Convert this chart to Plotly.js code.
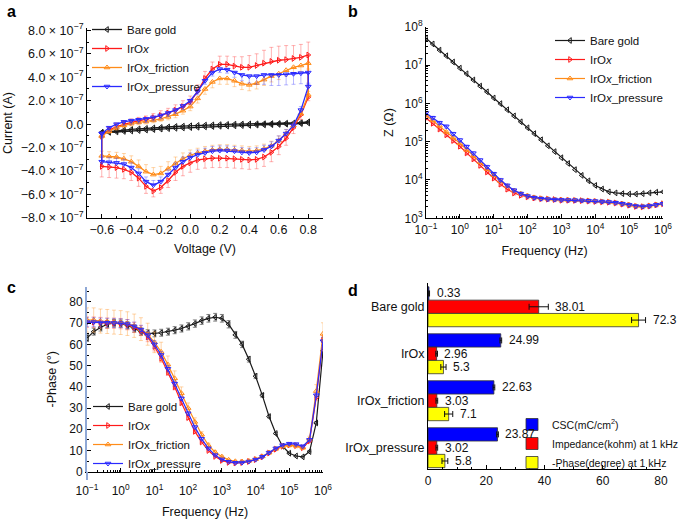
<!DOCTYPE html>
<html><head><meta charset="utf-8">
<script src="https://cdn.plot.ly/plotly-3.0.1.min.js"></script>
<style>html,body{margin:0;padding:0;background:#fff}#chart{width:685px;height:519px}</style>
</head><body><div id="chart"></div>
<script>
// ---------- Panel a: cyclic voltammetry (current in units of 1e-7 A) ----------
const voltage = [-0.6,-0.55,-0.5,-0.45,-0.4,-0.35,-0.3,-0.25,-0.2,-0.15,-0.1,-0.05,0,0.05,0.1,0.15,0.2,0.25,0.3,0.35,0.4,0.45,0.5,0.55,0.6,0.65,0.7,0.75,0.8];
const bareUp = [-0.7,-0.62,-0.55,-0.5,-0.45,-0.4,-0.36,-0.32,-0.28,-0.24,-0.2,-0.17,-0.14,-0.11,-0.08,-0.06,-0.04,-0.02,0.0,0.01,0.02,0.03,0.04,0.05,0.06,0.08,0.1,0.13,0.2];
const bareLow = [0.1,0.05,0.02,0.0,-0.02,-0.04,-0.06,-0.08,-0.1,-0.12,-0.14,-0.16,-0.18,-0.2,-0.23,-0.26,-0.29,-0.32,-0.35,-0.38,-0.42,-0.46,-0.5,-0.54,-0.58,-0.62,-0.66,-0.7,-0.75];
const iroxUp = [-1.0,-0.5,-0.2,0.0,0.15,0.28,0.4,0.55,0.75,0.95,1.2,1.5,1.9,2.8,3.9,4.7,5.1,5.1,4.95,4.85,4.85,5.0,5.2,5.35,5.45,5.5,5.6,5.7,5.9];
const iroxLow = [2.3,0.8,-0.3,-1.2,-1.9,-2.4,-2.8,-3.0,-3.05,-3.0,-2.95,-2.9,-2.9,-2.9,-2.95,-3.05,-3.3,-3.6,-4.1,-4.8,-5.4,-5.7,-5.3,-4.6,-4.1,-3.85,-3.7,-3.65,-3.6];
const fricUp = [-1.0,-0.6,-0.3,-0.1,0.05,0.15,0.22,0.32,0.45,0.62,0.85,1.15,1.5,2.2,3.0,3.6,3.9,3.9,3.7,3.45,3.35,3.5,3.8,4.1,4.3,4.6,4.85,5.0,5.2];
const fricLow = [2.5,0.9,-0.1,-0.8,-1.4,-1.85,-2.1,-2.25,-2.3,-2.25,-2.2,-2.15,-2.15,-2.2,-2.3,-2.45,-2.65,-2.95,-3.35,-3.8,-4.2,-4.3,-4.05,-3.6,-3.2,-2.95,-2.8,-2.75,-2.7];
const presUp = [-0.8,-0.3,0.0,0.2,0.3,0.38,0.45,0.58,0.75,0.95,1.2,1.55,2.0,2.8,3.7,4.4,4.7,4.65,4.4,4.2,4.1,4.1,4.2,4.2,4.2,4.25,4.3,4.35,4.4];
const presLow = [3.2,1.2,-0.1,-0.8,-1.4,-1.9,-2.2,-2.4,-2.45,-2.4,-2.3,-2.25,-2.25,-2.3,-2.45,-2.6,-2.85,-3.2,-3.7,-4.3,-4.9,-5.2,-4.9,-4.2,-3.7,-3.4,-3.3,-3.25,-3.2];
// error bars (units 1e-7 A)
const iroxUpErr = [0.3,0.3,0.3,0.3,0.3,0.3,0.3,0.35,0.4,0.4,0.45,0.5,0.5,0.55,0.6,0.6,0.7,0.7,0.8,0.9,1.0,1.0,1.1,1.2,1.2,1.2,1.1,1.1,1.1];
const iroxLowErr = [0.3,0.4,0.5,0.6,0.7,0.8,0.8,0.8,0.8,0.8,0.8,0.8,0.8,0.8,0.8,0.8,0.8,0.8,0.7,0.6,0.5,0.5,0.6,0.7,0.7,0.8,0.9,0.9,0.9];
const fricUpErr = [0.2,0.2,0.2,0.2,0.2,0.2,0.2,0.2,0.2,0.25,0.3,0.3,0.35,0.4,0.45,0.5,0.5,0.5,0.5,0.5,0.5,0.5,0.5,0.5,0.5,0.5,0.5,0.5,0.5];
const fricLowErr = [0.3,0.3,0.3,0.35,0.4,0.4,0.4,0.4,0.4,0.4,0.4,0.4,0.4,0.4,0.4,0.4,0.45,0.5,0.55,0.6,0.6,0.6,0.6,0.55,0.5,0.45,0.4,0.4,0.4];
const presUpErr = [0.3,0.3,0.3,0.3,0.3,0.3,0.3,0.3,0.3,0.3,0.3,0.3,0.3,0.3,0.3,0.3,0.3,0.3,0.4,0.5,0.6,0.7,0.8,0.9,0.9,0.9,0.9,0.9,1.0];
const presLowErr = [0.3,0.3,0.3,0.35,0.4,0.4,0.4,0.4,0.4,0.4,0.4,0.4,0.4,0.4,0.4,0.4,0.4,0.4,0.4,0.4,0.4,0.4,0.4,0.4,0.4,0.4,0.4,0.4,0.4];
const currentTickVals = [-8,-6,-4,-2,0,2,4,6,8];
const currentTickText = ['\u22128.0 \u00d7 10<sup>\u22127</sup>','\u22126.0 \u00d7 10<sup>\u22127</sup>','\u22124.0 \u00d7 10<sup>\u22127</sup>','\u22122.0 \u00d7 10<sup>\u22127</sup>','0.0','2.0 \u00d7 10<sup>\u22127</sup>','4.0 \u00d7 10<sup>\u22127</sup>','6.0 \u00d7 10<sup>\u22127</sup>','8.0 \u00d7 10<sup>\u22127</sup>'];

// ---------- Panels b, c: impedance spectroscopy ----------
const freq = [0.1,0.158,0.251,0.398,0.631,1,1.58,2.51,3.98,6.31,10,15.8,25.1,39.8,63.1,100,158,251,398,631,1000,1585,2512,3981,6310,1e4,1.585e4,2.512e4,3.981e4,6.31e4,1e5,1.585e5,2.512e5,3.981e5,6.31e5,1e6];
const zBare = [5.0e7,3.55e7,2.45e7,1.74e7,1.2e7,8.3e6,5.9e6,4.07e6,2.82e6,2.0e6,1.38e6,9.8e5,6.8e5,4.7e5,3.3e5,2.3e5,1.62e5,1.12e5,7.8e4,5.5e4,3.8e4,2.7e4,1.86e4,1.32e4,9.5e3,7.2e3,5.8e3,4.9e3,4.6e3,4.4e3,4.3e3,4.3e3,4.4e3,4.6e3,4.8e3,4.9e3];
const zIrox = [4.17e5,3.02e5,2.14e5,1.51e5,1.07e5,7.6e4,5.1e4,3.55e4,2.4e4,1.62e4,1.12e4,7.8e3,5.75e3,4.57e3,3.98e3,3.63e3,3.39e3,3.24e3,3.16e3,3.09e3,2.96e3,2.95e3,2.93e3,2.89e3,2.82e3,2.75e3,2.69e3,2.63e3,2.51e3,2.34e3,2.19e3,2.04e3,2.0e3,2.09e3,2.24e3,2.4e3];
const zFric = [5.0e5,3.6e5,2.6e5,1.8e5,1.28e5,9.1e4,6.1e4,4.3e4,2.9e4,1.95e4,1.35e4,9.4e3,6.9e3,5.3e3,4.4e3,3.9e3,3.5e3,3.3e3,3.2e3,3.1e3,3.03e3,3.0e3,2.97e3,2.93e3,2.87e3,2.8e3,2.73e3,2.66e3,2.55e3,2.4e3,2.25e3,2.1e3,2.05e3,2.12e3,2.27e3,2.42e3];
const zPres = [5.6e5,4.2e5,3.1e5,2.5e5,1.6e5,1.1e5,7.4e4,5.0e4,3.3e4,2.2e4,1.45e4,1.0e4,7.2e3,5.4e3,4.4e3,3.8e3,3.45e3,3.25e3,3.15e3,3.08e3,3.02e3,2.99e3,2.96e3,2.92e3,2.86e3,2.8e3,2.73e3,2.66e3,2.55e3,2.4e3,2.24e3,2.08e3,2.03e3,2.1e3,2.25e3,2.4e3];
const phBare = [63,66,68,69.5,70,69.8,69,67.5,66,65.3,65.2,65.5,66,66.7,67.5,68.5,69.8,71.2,72.3,72.8,72.3,69.5,64.5,60,53,45,36,26,18,12,8.7,7.4,7.0,9.5,23,57];
const phIrox = [70.5,70.5,70.3,70,70,69.8,69.3,68,66.5,63.5,59,53.5,47,40,32.5,25.5,19,14,10,7.2,5.3,4.4,4.1,4.3,4.8,5.7,7,8.8,10.6,12,12.6,12.3,11.3,14.5,35,62];
const phFric = [71.5,71.5,71,70.8,70.5,70.3,69.8,68.8,67.2,64.8,61,56.5,50.5,44,37,30,23.5,17.5,12.5,9.2,7.1,5.6,4.9,4.8,5.1,5.9,7.2,9,10.8,12,12.5,12.2,11.3,15.5,38,65];
const phPres = [70.5,70.5,70.3,70.2,70.1,70,69.6,68.5,67,64.3,60,55,48.5,41.5,34.5,27.5,21,15.5,11,7.8,5.8,4.7,4.2,4.3,4.8,5.7,7,9,11,12.5,13.2,13,12,15,36,61.5];
const decadeVals = [0.1,1,10,100,1000,1e4,1e5,1e6];
const decadeText = ['10<sup>\u22121</sup>','10<sup>0</sup>','10<sup>1</sup>','10<sup>2</sup>','10<sup>3</sup>','10<sup>4</sup>','10<sup>5</sup>','10<sup>6</sup>'];
const zTickVals = [1e3,1e4,1e5,1e6,1e7,1e8];
const zTickText = ['10<sup>3</sup>','10<sup>4</sup>','10<sup>5</sup>','10<sup>6</sup>','10<sup>7</sup>','10<sup>8</sup>'];

// ---------- Panel d: summary bars ----------
const samples = ['Bare gold','IrOx','IrOx_friction','IrOx_pressure'];
const csc = [0.33,24.99,22.63,23.87];
const cscErr = [0.2,0.3,0.3,0.3];
const imp1k = [38.01,2.96,3.03,3.02];
const imp1kErr = [3.3,0.3,0.3,0.3];
const phase1k = [72.3,5.3,7.1,5.8];
const phase1kErr = [2.4,0.9,1.4,1.0];
const seriesNames = ['CSC(mC/cm<sup>2</sup>)','Impedance(kohm) at 1 kHz','-Phase(degree) at 1 kHz'];

// ---------- styles ----------
const FONT = 'Liberation Sans, Arial, Helvetica, sans-serif';
const C = {bare:'#1a1a1a', irox:'#ff1a1a', fric:'#ff8c1a', pres:'#2a2aff'};
const CE = {bare:'rgba(40,40,40,0.55)', irox:'rgba(255,40,40,0.35)', fric:'rgba(255,150,40,0.4)', pres:'rgba(50,50,255,0.35)'};
const W = 685, H = 519;
const px = (l, r) => [l / W, r / W];
const py = (top, bot) => [1 - bot / H, 1 - top / H];

const zeros = voltage.map(() => 0);
const revV = voltage.slice().reverse();
function loop(up, low) { return up.concat(low, [up[0]]); }
const loopV = loop(voltage, revV);

function cvTrace(name, up, low, upErr, lowErr, outward, color, ecolor, symbol) {
  const t = {x: loopV, y: loop(up, low), name: name, xaxis:'x', yaxis:'y', legend:'legend',
    mode:'lines+markers', line:{color:color, width:1.3}, marker:{symbol:symbol, size:5, color:color, line:{width:1}}};
  if (upErr) {
    const plus = outward ? loop(upErr, zeros) : loop(zeros, lowErr);
    const minus = outward ? loop(zeros, lowErr) : loop(upErr, zeros);
    t.error_y = {type:'data', symmetric:false, array:plus, arrayminus:minus, color:ecolor, thickness:1, width:2};
  }
  return t;
}

const traces = [];
traces.push(cvTrace('Bare gold', bareUp, bareLow, null, null, true, C.bare, CE.bare, 'triangle-left-open'));
traces.push(cvTrace('IrO<i>x</i>', iroxUp, iroxLow, iroxUpErr, iroxLowErr, true, C.irox, CE.irox, 'triangle-right-open'));
traces.push(cvTrace('IrOx_friction', fricUp, fricLow, fricUpErr, fricLowErr, false, C.fric, CE.fric, 'triangle-up-open'));
traces.push(cvTrace('IrOx_pressure', presUp, presLow, presUpErr, presLowErr, false, C.pres, CE.pres, 'triangle-down-open'));

function eisTrace(name, y, ax, lg, color, ecolor, symbol, pct) {
  const t = {x: freq, y: y, name: name, xaxis:'x'+ax, yaxis:'y'+ax, legend:lg,
    mode:'lines+markers', line:{color:color, width:1.2}, marker:{symbol:symbol, size:5, color:color, line:{width:1}}};
  if (pct) t.error_y = {type:'percent', value:pct, color:ecolor, thickness:1, width:2};
  return t;
}
traces.push(eisTrace('Bare gold', zBare, 2, 'legend2', C.bare, CE.bare, 'triangle-left-open', 0));
traces.push(eisTrace('IrO<i>x</i>', zIrox, 2, 'legend2', C.irox, CE.irox, 'triangle-right-open', 12));
traces.push(eisTrace('IrO<i>x</i>_friction', zFric, 2, 'legend2', C.fric, CE.fric, 'triangle-up-open', 8));
traces.push(eisTrace('IrO<i>x</i>_pressure', zPres, 2, 'legend2', C.pres, CE.pres, 'triangle-down-open', 10));

traces.push(eisTrace('Bare gold', phBare, 3, 'legend3', C.bare, CE.bare, 'triangle-left-open', 2.5));
traces.push(eisTrace('IrO<i>x</i>', phIrox, 3, 'legend3', C.irox, CE.irox, 'triangle-right-open', 3.5));
traces.push(eisTrace('IrOx_friction', phFric, 3, 'legend3', C.fric, CE.fric, 'triangle-up-open', 8));
traces.push(eisTrace('IrO<i>x</i>_pressure', phPres, 3, 'legend3', C.pres, CE.pres, 'triangle-down-open', 3));

const barVals = [csc, imp1k, phase1k];
const barErrs = [cscErr, imp1kErr, phase1kErr];
const barColors = ['#0000ff','#ff0000','#ffff00'];
for (let k = 0; k < 3; k++) {
  traces.push({type:'bar', orientation:'h', x: barVals[k], y: samples, name: seriesNames[k],
    xaxis:'x4', yaxis:'y4', legend:'legend4',
    marker:{color:barColors[k], line:{color:'#333', width:0.8}},
    error_x:{type:'data', array:barErrs[k], color:'#111', thickness:1, width:3}});
}

// ---------- layout ----------
const dDomY = py(283.3, 469.3), dRange = [3.46, -0.5], bargap = 0.15;
const pxPerCat = ((dDomY[1] - dDomY[0]) * H) / (dRange[0] - dRange[1]);
const barPx = (1 - bargap) / 3 * pxPerCat;
const annotations = [];
for (let k = 0; k < 3; k++) {
  for (let i = 0; i < samples.length; i++) {
    annotations.push({xref:'x4', yref:'y4', x: barVals[k][i] + barErrs[k][i], y: samples[i],
      text: String(barVals[k][i]), showarrow:false, xanchor:'left', yanchor:'middle',
      xshift:5, yshift:(1 - k) * barPx, font:{family:FONT, size:12, color:'#111'}});
  }
}
const letters = [['a',5,12],['b',346,12],['c',5,287],['d',346,290]];
letters.forEach(l => annotations.push({xref:'paper', yref:'paper', x:l[1]/W, y:1-l[2]/H, text:'<b>'+l[0]+'</b>',
  showarrow:false, xanchor:'left', yanchor:'middle', font:{family:FONT, size:16, color:'#000'}}));

const axBase = {showgrid:false, zeroline:false, showline:true, linecolor:'#000', linewidth:1, mirror:false, automargin:false,
  ticks:'inside', ticklen:4, tickcolor:'#000', tickfont:{family:FONT, size:12, color:'#111'}};
const titleFont = {family:FONT, size:12.5, color:'#111'};
const legBase = {bgcolor:'rgba(0,0,0,0)', borderwidth:0, font:{family:FONT, size:11.5, color:'#111'}, xanchor:'left', yanchor:'top', tracegroupgap:0};

const layout = {
  width:W, height:H, margin:{l:0, r:0, t:0, b:0, autoexpand:false}, paper_bgcolor:'#fff', plot_bgcolor:'rgba(0,0,0,0)',
  font:{family:FONT, size:12, color:'#111'}, showlegend:true, barmode:'group', bargap:bargap, bargroupgap:0,
  xaxis: Object.assign({}, axBase, {domain:px(87,323), anchor:'y', range:[-0.7,0.9], dtick:0.2, tick0:0, tickformat:'.1f',
    tickfont:{family:FONT, size:12.5, color:'#111'}, minor:{dtick:0.1, tick0:0, ticks:'inside', ticklen:2, tickcolor:'#000'},
    title:{text:'Voltage (V)', font:titleFont, standoff:8}}),
  yaxis: Object.assign({}, axBase, {domain:py(28,218), anchor:'x', range:[-8,8.2], tickmode:'array', tickvals:currentTickVals, ticktext:currentTickText,
    tickfont:{family:FONT, size:12.5, color:'#111'}, minor:{dtick:1, tick0:0, ticks:'inside', ticklen:2, tickcolor:'#000'},
    title:{text:'Current (A)', font:titleFont, standoff:5}}),
  xaxis2: Object.assign({}, axBase, {domain:px(426,663), anchor:'y2', type:'log', range:[-1,6], tickmode:'array', tickvals:decadeVals, ticktext:decadeText,
    minor:{dtick:'D1', ticks:'inside', ticklen:2, tickcolor:'#000'}, title:{text:'Frequency (Hz)', font:titleFont, standoff:10}}),
  yaxis2: Object.assign({}, axBase, {domain:py(26.7,218.3), anchor:'x2', type:'log', range:[3,8], tickmode:'array', tickvals:zTickVals, ticktext:zTickText,
    minor:{dtick:'D1', ticks:'inside', ticklen:2, tickcolor:'#000'}, title:{text:'Z (\u03a9)', font:titleFont, standoff:8}}),
  xaxis3: Object.assign({}, axBase, {domain:px(87,323), anchor:'y3', type:'log', range:[-1,6], tickmode:'array', tickvals:decadeVals, ticktext:decadeText,
    ticklabelstandoff:8, minor:{dtick:'D1', ticks:'inside', ticklen:2, tickcolor:'#000'}, title:{text:'Frequency (Hz)', font:titleFont, standoff:10}}),
  yaxis3: Object.assign({}, axBase, {domain:py(286.7,471.7), anchor:'x3', range:[0,87.2], dtick:10, linecolor:'#8fa8d6', linewidth:2,
    minor:{dtick:5, ticks:'inside', ticklen:2, tickcolor:'#000'}, title:{text:'-Phase (\u00b0)', font:titleFont, standoff:10}}),
  xaxis4: Object.assign({}, axBase, {domain:px(428,661), anchor:'y4', range:[0,80], dtick:20,
    minor:{dtick:5, ticks:'inside', ticklen:2, tickcolor:'#000'}}),
  yaxis4: Object.assign({}, axBase, {domain:dDomY, anchor:'x4', type:'category', range:dRange, ticks:'', tickfont:{family:FONT, size:12.5, color:'#111'}}),
  legend: Object.assign({}, legBase, {x:87/W, y:1-15/H}),
  legend2: Object.assign({}, legBase, {x:550/W, y:1-26/H}),
  legend3: Object.assign({}, legBase, {x:88/W, y:1-392/H}),
  legend4: Object.assign({}, legBase, {x:684/W, xanchor:'right', y:1-410/H, font:{family:FONT, size:10.5, color:'#111'}}),
  annotations: annotations,
  shapes: [{type:'line', xref:'paper', yref:'paper', x0:87/W, x1:87/W, y0:1-480/H, y1:1-471.7/H, line:{color:'#8fa8d6', width:2}}]
};

Plotly.newPlot('chart', traces, layout, {displayModeBar:false, staticPlot:true});
</script>
</body></html>
